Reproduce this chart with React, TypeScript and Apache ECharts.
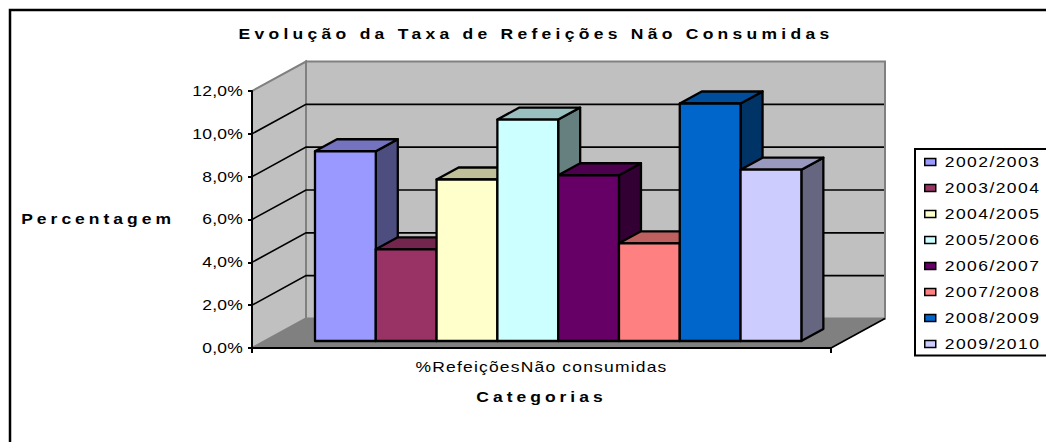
import React, { useEffect, useRef } from "react";
import * as echarts from "echarts";

const titleText = "Evolução da Taxa de Refeições Não Consumidas";
const yName = "Percentagem";
const xName = "Categorias";
const categories = ["%RefeiçõesNão consumidas"];
const years = ["2002/2003", "2003/2004", "2004/2005", "2005/2006", "2006/2007", "2007/2008", "2008/2009", "2009/2010"];
const rates = [8.86, 4.28, 7.54, 10.34, 7.74, 4.56, 11.09, 8.0];
const colors = ["#9999FF", "#993366", "#FFFFCC", "#CCFFFF", "#660066", "#FF8080", "#0066CC", "#CCCCFF"];
const wallTicks = [2, 4, 6, 8, 10];

const FONT = "'Liberation Sans', Arial, sans-serif";
const DEPTH_X = 54;
const DEPTH_Y = -29.5;

function shade(hex: string, f: number) {
  const n = parseInt(hex.slice(1), 16);
  const c = [(n >> 16) & 255, (n >> 8) & 255, n & 255].map((v) => Math.round(v * f));
  return `rgb(${c[0]},${c[1]},${c[2]})`;
}

const wallSeries = {
  type: "custom",
  name: "walls",
  silent: true,
  z: 1,
  data: [[0, 0]],
  encode: { x: 0, y: 1 },
  renderItem: (_p: any, api: any) => {
    const [cx, y0] = api.coord([0, 0]);
    const band = api.size([1, 0])[0];
    const yTop = api.coord([0, 12])[1];
    const L = cx - band / 2;
    const R = cx + band / 2;
    const grey = "#808080";
    const children: any[] = [
      { type: "polygon", shape: { points: [[L, y0], [L + DEPTH_X, y0 + DEPTH_Y], [R + DEPTH_X, y0 + DEPTH_Y], [R, y0]] }, style: { fill: grey, stroke: grey, lineWidth: 1 } },
      { type: "polygon", shape: { points: [[L, y0], [L + DEPTH_X, y0 + DEPTH_Y], [L + DEPTH_X, yTop + DEPTH_Y], [L, yTop]] }, style: { fill: "#C0C0C0", stroke: grey, lineWidth: 2 } },
      { type: "polygon", shape: { points: [[L + DEPTH_X, y0 + DEPTH_Y], [R + DEPTH_X, y0 + DEPTH_Y], [R + DEPTH_X, yTop + DEPTH_Y], [L + DEPTH_X, yTop + DEPTH_Y]] }, style: { fill: "#C0C0C0", stroke: grey, lineWidth: 2 } },
    ];
    wallTicks.forEach((t) => {
      const y = api.coord([0, t])[1];
      children.push({ type: "polyline", shape: { points: [[L, y], [L + DEPTH_X, y + DEPTH_Y], [R + DEPTH_X - 1, y + DEPTH_Y]] }, style: { fill: "none", stroke: "#000", lineWidth: 1.6 } });
    });
    children.push({ type: "line", shape: { x1: R, y1: y0, x2: R + DEPTH_X, y2: y0 + DEPTH_Y }, style: { stroke: "#000", lineWidth: 1.6 } });
    return { type: "group", children };
  },
};

const barSeries = years.map((name, i) => ({
  type: "custom",
  name,
  z: 2,
  itemStyle: { color: colors[i] },
  data: [[0, rates[i]]],
  encode: { x: 0, y: 1 },
  renderItem: (_p: any, api: any) => {
    const v = api.value(1);
    const [cx, y0] = api.coord([0, 0]);
    const yv = api.coord([0, v])[1];
    const band = api.size([1, 0])[0];
    const w = band * 0.105;
    const x = cx - band / 2 + band * 0.1088 + i * w;
    const b = y0 - 7;
    const t = yv - 7;
    const dx = 22;
    const dy = -12;
    const line = { stroke: "#000", lineWidth: 2.3, lineJoin: "round" };
    return {
      type: "group",
      children: [
        { type: "polygon", shape: { points: [[x + w, b], [x + w + dx, b + dy], [x + w + dx, t + dy], [x + w, t]] }, style: { fill: shade(colors[i], 0.5), ...line } },
        { type: "polygon", shape: { points: [[x, t], [x + dx, t + dy], [x + w + dx, t + dy], [x + w, t]] }, style: { fill: shade(colors[i], 0.75), ...line } },
        { type: "rect", shape: { x, y: t, width: w, height: b - t }, style: { fill: colors[i], ...line } },
      ],
    };
  },
}));

// Horizontal stretch and tracking of the original's widened text: [scaleX, letter spacing]
function textLook(s: string): [number, number] {
  if (s === titleText) return [1.25, 3.42];
  if (s === yName || s === xName) return [1.25, 3.2];
  if (s === categories[0]) return [1.25, 0.95];
  if (years.includes(s)) return [1.25, 1.15];
  return [1.25, 0.2];
}

function stretchTexts(root: HTMLElement) {
  root.querySelectorAll("text").forEach((el) => {
    const s = el.textContent || "";
    const [k, ls] = textLook(s);
    el.style.letterSpacing = `${ls}px`;
    const x = parseFloat(el.getAttribute("x") || "0");
    const y = parseFloat(el.getAttribute("y") || "0");
    const attr = el.getAttribute("transform") || "";
    const nums = (attr.match(/-?\d*\.?\d+(?:e-?\d+)?/g) || []).map(Number);
    let p = [1, 0, 0, 1, 0, 0];
    if (attr.startsWith("matrix") && nums.length >= 6) p = nums;
    else if (attr.startsWith("translate")) p = [1, 0, 0, 1, nums[0] || 0, nums[1] || 0];
    const ex = p[0] * x + p[4];
    const ey = p[3] * y + p[5];
    el.setAttribute("x", "0");
    el.setAttribute("y", "0");
    el.setAttribute("transform", `matrix(${k},0,0,1,${ex},${ey})`);
  });
}

export default function App() {
  const ref = useRef<HTMLDivElement>(null);
  useEffect(() => {
    const chart = echarts.init(ref.current!, undefined, { renderer: "svg" });
    chart.setOption({
      animation: false,
      backgroundColor: "#fff",
      textStyle: { fontFamily: FONT },
      title: {
        text: titleText,
        left: 531,
        top: 22,
        textAlign: "center",
        textStyle: { fontFamily: FONT, fontSize: 14, fontWeight: "bold", color: "#000" },
      },
      grid: { left: 252, top: 91, width: 579, height: 257 },
      xAxis: {
        type: "category",
        data: categories,
        z: 5,
        name: xName,
        nameLocation: "middle",
        nameGap: 42,
        nameTextStyle: { fontFamily: FONT, fontSize: 14, fontWeight: "bold", color: "#000" },
        axisLine: { lineStyle: { color: "#000", width: 2 } },
        axisTick: { show: true, length: 5, alignWithLabel: false, lineStyle: { color: "#000", width: 2 } },
        axisLabel: { margin: 12, fontFamily: FONT, fontSize: 14, color: "#000" },
        splitLine: { show: false },
      },
      yAxis: {
        type: "value",
        min: 0,
        max: 12,
        interval: 2,
        z: 5,
        name: yName,
        nameLocation: "middle",
        nameRotate: 0,
        nameGap: 77,
        nameTextStyle: { fontFamily: FONT, fontSize: 14, fontWeight: "bold", color: "#000", padding: [0, 0, 9, 0] },
        axisLine: { show: true, lineStyle: { color: "#000", width: 2 } },
        axisTick: { show: true, length: 4, lineStyle: { color: "#000", width: 2 } },
        axisLabel: {
          margin: 9,
          fontFamily: FONT,
          fontSize: 14,
          color: "#000",
          formatter: (v: number) => v.toFixed(1).replace(".", ",") + "%",
        },
        splitLine: { show: false },
      },
      legend: {
        orient: "vertical",
        left: 924,
        top: 155,
        padding: 0,
        icon: "rect",
        itemWidth: 11,
        itemHeight: 7,
        itemGap: 12,
        data: years,
        selectedMode: false,
        itemStyle: { borderColor: "#000", borderWidth: 1.5 },
        textStyle: { fontFamily: FONT, fontSize: 14, lineHeight: 14, color: "#000", padding: [0, 0, 0, 4] },
      },
      graphic: [
        { type: "rect", z: 0, shape: { x: 10, y: 10, width: 1200, height: 600 }, style: { fill: "none", stroke: "#000", lineWidth: 2.5 } },
        { type: "rect", z: 0, shape: { x: 915, y: 149, width: 300, height: 206.5 }, style: { fill: "#fff", stroke: "#000", lineWidth: 2 } },
      ],
      series: [wallSeries, ...barSeries],
    });
    stretchTexts(ref.current!);
    return () => chart.dispose();
  }, []);
  return <div ref={ref} style={{ position: "absolute", left: 0, top: 0, width: 1046, height: 442 }} />;
}
